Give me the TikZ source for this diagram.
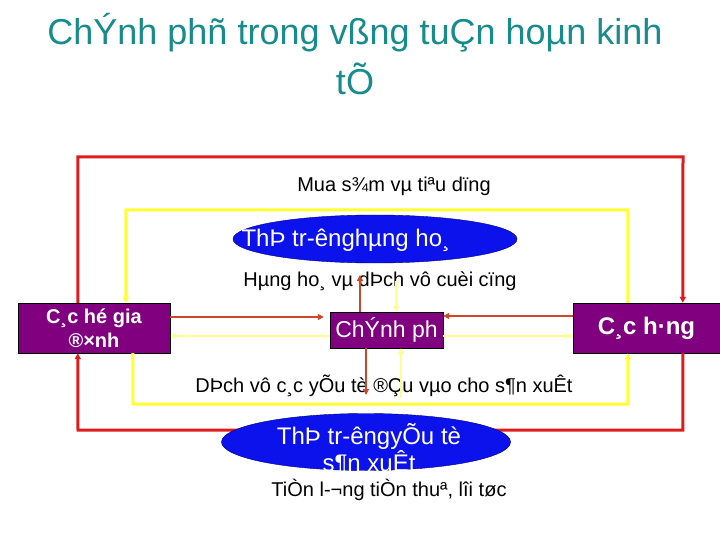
\documentclass[tikz,border=0pt]{standalone}
\usepackage{fontspec}
\setmainfont{Liberation Sans}
\usetikzlibrary{arrows.meta,shapes.geometric}
\definecolor{loopred}{RGB}{222,28,28}
\definecolor{loopyellow}{RGB}{255,255,50}
\definecolor{flowred}{RGB}{204,72,40}
\definecolor{flowyellow}{RGB}{255,255,140}
\definecolor{agentpurple}{RGB}{128,0,128}
\definecolor{marketblue}{RGB}{12,18,235}
\definecolor{titleteal}{RGB}{22,140,140}

\begin{document}
\begin{tikzpicture}[x=1pt, y=-1pt, >={Triangle[length=6pt,width=6pt]},
		agent/.style={draw=black, fill=agentpurple, text=white, inner sep=0pt, align=center},
		market/.style={ellipse, draw=blue!50!black, fill=marketblue, inner sep=0pt},
		flowtext/.style={font=\fontsize{20}{24}\selectfont},
		marktext/.style={text=white, font=\fontsize{24}{27}\selectfont, align=center},
		bigloop/.style={line width=3pt},
		smallflow/.style={line width=2pt, ->}]
			\useasboundingbox[fill=white] (0,0) rectangle (720,540);
			% title
			\node[text=titleteal, font=\fontsize{36}{50}\selectfont, align=center] (title) at (355,54) {ChÝnh phñ trong vßng tuÇn hoµn kinh\\tÕ};
			% agents
			\node[agent, minimum width=152pt, minimum height=50pt, font=\fontsize{20}{24}\selectfont\bfseries] (hgd) at (94,328) {C¸c hé gia\\®×nh};
			\node[agent, minimum width=147pt, minimum height=50pt, font=\fontsize{24}{28}\selectfont\bfseries] (hang) at (646.5,328) {C¸c h·ng};
			\node[agent, minimum width=113pt, minimum height=36pt, font=\fontsize{23}{26}\selectfont] (gov) at (386.5,330) {ChÝnh ph};
			% texts on the flows
			\node[flowtext] (buy) at (394,186) {Mua s¾m vµ tiªu dïng};
			\node[flowtext] (goods) at (380,281) {Hµng ho¸ vµ dÞch vô cuèi cïng};
			\node[flowtext] (inputs) at (384,386) {DÞch vô c¸c yÕu tè ®Çu vµo cho s¶n xuÊt};
			% outer loops
			\coordinate (redtop) at (683,157);
			\coordinate (redbot) at (78,430);
			\coordinate (yeltop) at (126,210);
			\coordinate (yelbot) at (628,404);
			\draw[bigloop, loopred, ->] ([xshift=60pt]hgd.north west) |- (redtop) -- ([xshift=110pt]hang.north west);
			\draw[bigloop, loopred, ->] ([xshift=110pt]hang.south west) |- (redbot) -- ([xshift=60pt]hgd.south west);
			\draw[bigloop, loopyellow, ->] ([xshift=55pt]hang.north west) |- (yeltop) -- ([xshift=108pt]hgd.north west);
			\draw[bigloop, loopyellow, ->] ([xshift=115pt]hgd.south west) |- (yelbot) -- ([xshift=55pt]hang.south west);
			% flows through the government
			\draw[smallflow, flowred, shorten >=6pt] ([yshift=11pt]hgd.east) -- ([yshift=13pt]gov.west);
			\draw[smallflow, flowyellow] ([yshift=-6pt]gov.west) -- ([yshift=-8pt]hgd.east);
			\draw[smallflow, flowred] ([yshift=12pt]hang.west) -- ([yshift=14pt]gov.east);
			\draw[smallflow, flowyellow] ([yshift=-6pt]gov.east) -- ([yshift=-8pt]hang.west);
			\coordinate (taxup) at (360,275);
			\coordinate (goodsin) at (396,281);
			\coordinate (paydown) at (366,395);
			\coordinate (inputin) at (401,398);
			\draw[smallflow, flowred] ([xshift=-26.5pt]gov.north) -- (taxup);
			\draw[smallflow, flowyellow] (goodsin) -- ([xshift=9.5pt]gov.north);
			\draw[smallflow, flowred] ([xshift=-20.5pt]gov.south) -- (paydown);
			\draw[smallflow, flowyellow] (inputin) -- ([xshift=14.5pt]gov.south);
			% markets
			\node[market, minimum width=284pt, minimum height=48pt] (goodsmkt) at (375,239) {};
			\node[marktext, anchor=west] (goodslbl) at (238,240) {ThÞ tr-ênghµng ho¸};
			\node[market, minimum width=289pt, minimum height=57pt] (factmkt) at (366,442) {};
			\node[marktext] (factlbl) at (369,449) {ThÞ tr-êngyÕu tè\\s¶n xuÊt};
			\node[flowtext] (income) at (389,490) {TiÒn l-¬ng tiÒn thuª, lîi tøc};
		\end{tikzpicture}
\end{document}
